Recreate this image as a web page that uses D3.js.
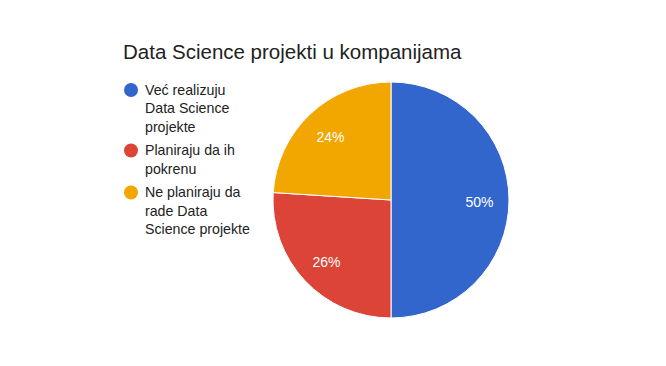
<!DOCTYPE html>
<html>
<head>
<meta charset="utf-8">
<script src="https://cdn.jsdelivr.net/npm/d3@7"></script>
<style>
html,body{margin:0;padding:0;background:#fff;}
svg{display:block;font-family:"Liberation Sans",Arial,sans-serif;}
</style>
</head>
<body>
<svg id="chart" width="666" height="366"></svg>
<script>
const title = "Data Science projekti u kompanijama";
const categories = ["Već realizuju Data Science projekte", "Planiraju da ih pokrenu", "Ne planiraju da rade Data Science projekte"];
const legendLines = [["Već realizuju", "Data Science", "projekte"], ["Planiraju da ih", "pokrenu"], ["Ne planiraju da", "rade Data", "Science projekte"]];
const values = [50, 26, 24];
const colors = ["#3366cc", "#db4437", "#f2a600"];

const svg = d3.select("#chart");
svg.append("rect").attr("width", 666).attr("height", 366).attr("fill", "#fff");

svg.append("text").attr("x", 123).attr("y", 59)
  .attr("font-size", 20.5).attr("fill", "#222").text(title);

const cx = 391, cy = 200, r = 118;
const pie = d3.pie().sort(null).value(d => d)(values);
const arc = d3.arc().innerRadius(0).outerRadius(r);
const labelArc = d3.arc().innerRadius(r * 0.75).outerRadius(r * 0.75);
const total = d3.sum(values);

const g = svg.append("g").attr("transform", `translate(${cx},${cy})`);
g.selectAll("path").data(pie).join("path")
  .attr("d", arc).attr("fill", (d, i) => colors[i])
  .attr("stroke", "#fff").attr("stroke-width", 1);
g.selectAll("text").data(pie).join("text")
  .attr("transform", d => `translate(${labelArc.centroid(d)})`)
  .attr("text-anchor", "middle").attr("dy", "0.48em")
  .attr("font-size", 14).attr("fill", "#fff")
  .text(d => Math.round(d.value / total * 100) + "%");

const lg = svg.append("g");
const lineH = 18.5;
let y = 90;
legendLines.forEach((lines, i) => {
  lg.append("circle").attr("cx", 131).attr("cy", y).attr("r", 7).attr("fill", colors[i]);
  const t = lg.append("text").attr("x", 145).attr("y", y).attr("dy", "0.35em")
    .attr("font-size", 14.2).attr("fill", "#222");
  lines.forEach((ln, j) => {
    t.append("tspan").attr("x", 145).attr("y", y + j * lineH).attr("dy", "0.35em").text(ln);
  });
  y += lines.length * lineH + 5;
});
</script>
</body>
</html>
